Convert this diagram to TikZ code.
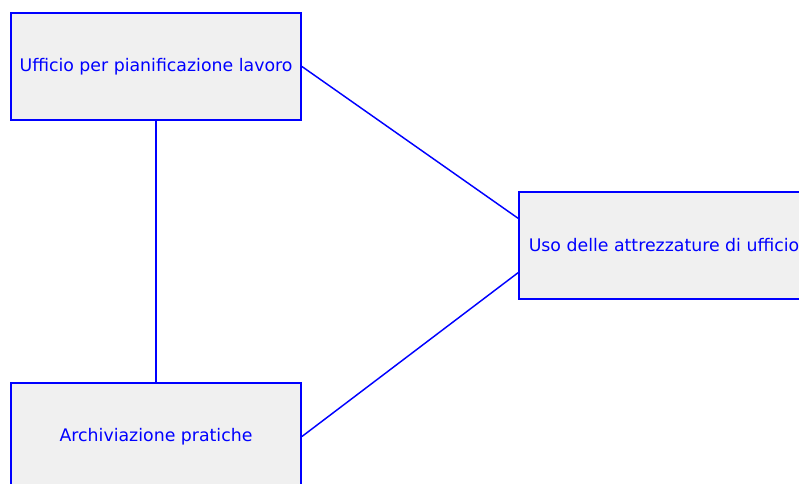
\documentclass[tikz,border=0pt]{standalone}
\usepackage{fontspec}
\setmainfont{DejaVu Sans}
\usetikzlibrary{calc}
\begin{document}
\begin{tikzpicture}[x=0.75pt,y=-0.75pt,
  box/.style={draw=blue,fill=boxgray,line width=1.4pt,minimum width=290*0.75pt,minimum height=107*0.75pt,inner sep=0pt,font=\fontsize{13}{15}\selectfont,text=blue},
  link/.style={draw=blue,line width=1.1pt}]
\definecolor{boxgray}{RGB}{240,240,240}
\useasboundingbox (0,0) rectangle (799,484);
\clip (0,0) rectangle (799,484);
\node[box] (a) at (156,66.5) {Ufficio per pianificazione lavoro};
\node[box] (b) at (664,245.5) {Uso delle attrezzature di ufficio};
\node[box] (c) at (156,436.5) {Archiviazione pratiche};
\draw[link] (a.south) -- (c.north);
\draw[link] (a.east) -- ($(b.north west)!0.25!(b.south west)$);
\draw[link] (c.east) -- ($(b.north west)!0.75!(b.south west)$);
\end{tikzpicture}
\end{document}
